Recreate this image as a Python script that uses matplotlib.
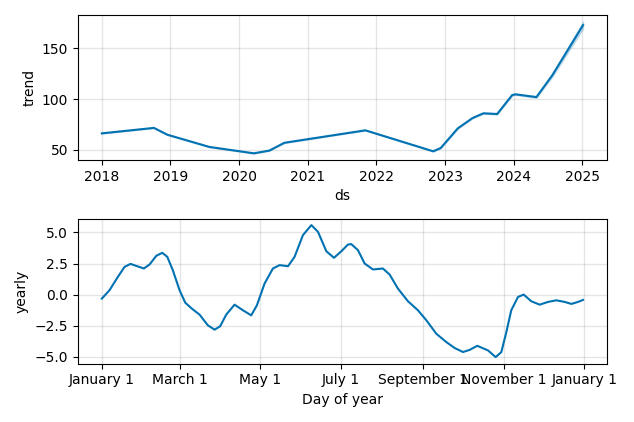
import matplotlib
matplotlib.use("Agg")
import matplotlib.pyplot as plt
from matplotlib.dates import MonthLocator, num2date
from matplotlib.ticker import FuncFormatter
import numpy as np
import pandas as pd

# trend component (breakpoints)
trend_dates = ["2018-01-01", "2018-10-05", "2018-12-15", "2019-07-27", "2020-03-20",
               "2020-06-10", "2020-08-29", "2021-11-03", "2022-10-30", "2022-12-09",
               "2023-03-10", "2023-05-27", "2023-07-24", "2023-10-05", "2023-12-24",
               "2024-01-11", "2024-05-01", "2024-07-24", "2025-01-04"]
trend_values = [66.2, 71.6, 64.9, 52.8, 46.5, 49.2, 56.9, 69.2, 48.5, 51.8,
                71.2, 81.3, 86.0, 85.3, 104.0, 104.7, 102.0, 123.4, 173.0]
trend_band = [0.2, 0.3, 0.3, 0.3, 0.3, 0.3, 0.3, 0.3, 0.3, 0.3,
              0.4, 0.4, 0.5, 0.5, 0.6, 0.6, 0.8, 1.5, 3.5]

# yearly seasonality: day of year -> value
year_days = [0, 5.8, 12.1, 17.2, 21.7, 26.8, 31.8, 36.1, 41.2, 45.7, 49.5, 53.7,
             58.8, 63.1, 68.1, 73.9, 80.2, 85.3, 89.5, 94.1, 100.4, 106.7, 113.0,
             117.3, 123.1, 129.4, 134.5, 140.8, 145.8, 152.1, 158.5, 163.5, 169.8,
             175.6, 181.2, 186.2, 188.7, 193.7, 198.8, 205.1, 212.6, 217.7, 224.0,
             231.6, 239.1, 245.5, 253.0, 260.6, 266.9, 273.2, 278.2, 284.0, 292.1,
             297.9, 302.2, 306.0, 309.7, 314.8, 319.1, 324.9, 331.2, 337.5, 343.8,
             350.1, 355.2, 360.2, 364.0]
yearly_values = [-0.32, 0.35, 1.42, 2.23, 2.47, 2.28, 2.10, 2.42, 3.12, 3.36, 3.04, 1.96,
                 0.35, -0.65, -1.13, -1.61, -2.47, -2.82, -2.55, -1.61, -0.81, -1.26,
                 -1.67, -0.86, 0.89, 2.10, 2.37, 2.28, 3.04, 4.78, 5.59, 5.05, 3.49,
                 2.96, 3.49, 4.03, 4.06, 3.58, 2.50, 2.02, 2.10, 1.61, 0.48, -0.54,
                 -1.26, -2.07, -3.15, -3.82, -4.30, -4.62, -4.45, -4.12, -4.49, -5.03,
                 -4.62, -3.01, -1.26, -0.19, 0.0, -0.54, -0.81, -0.59, -0.46, -0.59,
                 -0.75, -0.59, -0.43]

color = "#0072B2"

fig, (ax1, ax2) = plt.subplots(2, 1, figsize=(6.34, 4.22), dpi=100)

ds = pd.to_datetime(trend_dates)
tv = np.array(trend_values)
tb = np.array(trend_band)
ax1.plot(ds, tv, ls="-", c=color)
ax1.fill_between(ds, tv - tb, tv + tb, color=color, alpha=0.2)
ax1.grid(True, which="major", c="gray", ls="-", lw=1, alpha=0.2)
ax1.set_xlabel("ds")
ax1.set_ylabel("trend")

days = pd.Timestamp("2017-01-01") + pd.to_timedelta(year_days, unit="D")
ax2.plot(days, yearly_values, ls="-", c=color)
ax2.xaxis.set_major_locator(MonthLocator(bymonth=range(1, 13), bymonthday=1, interval=2))
ax2.xaxis.set_major_formatter(FuncFormatter(
    lambda x, pos=None: "{dt:%B} {dt.day}".format(dt=num2date(x))))
ax2.grid(True, which="major", c="gray", ls="-", lw=1, alpha=0.2)
ax2.set_xlabel("Day of year")
ax2.set_ylabel("yearly")

fig.tight_layout()
fig.savefig("out.png")
